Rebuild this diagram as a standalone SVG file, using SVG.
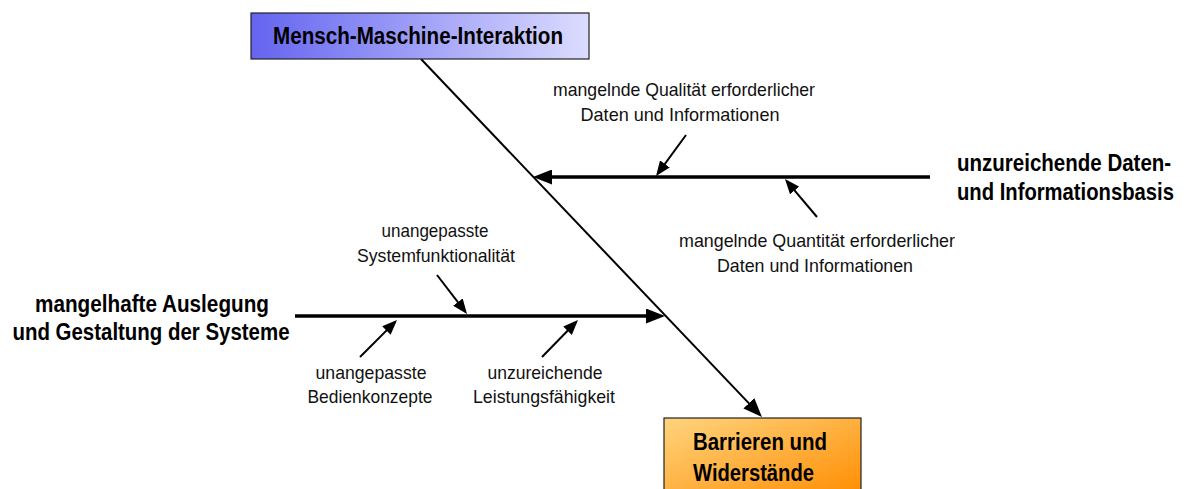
<svg xmlns="http://www.w3.org/2000/svg" width="1186" height="489" viewBox="0 0 1186 489">
  <style>
    .bold { font-family: "Liberation Sans", Arial, sans-serif; font-weight: bold; font-size: 23px; fill: #000; }
    .label { font-family: "Liberation Sans", Arial, sans-serif; font-size: 19px; fill: #111; text-anchor: middle; }
    .box { stroke: #222; stroke-width: 1.2; }
    .bone { stroke: #000; stroke-width: 3.5; fill: none; }
    .spine { stroke: #000; stroke-width: 2; fill: none; }
    .cause { stroke: #000; stroke-width: 2; fill: none; }
  </style>
  <defs>
    <linearGradient id="gradBlue" x1="0" y1="0" x2="1" y2="0">
      <stop offset="0" stop-color="#6464f0"/>
      <stop offset="1" stop-color="#dcdcff"/>
    </linearGradient>
    <linearGradient id="gradOrange" x1="0" y1="0" x2="1" y2="1">
      <stop offset="0" stop-color="#ffd47e"/>
      <stop offset="1" stop-color="#ff8c00"/>
    </linearGradient>
    <marker id="headLarge" viewBox="0 0 19 15" markerWidth="19" markerHeight="15" refX="14" refY="7.5" orient="auto" markerUnits="userSpaceOnUse">
      <path d="M0,0 L19,7.5 L0,15 z" fill="#000"/>
    </marker>
    <marker id="headSmall" viewBox="0 0 15 12" markerWidth="15" markerHeight="12" refX="12" refY="6" orient="auto" markerUnits="userSpaceOnUse">
      <path d="M0,0 L15,6 L0,12 z" fill="#000"/>
    </marker>
  </defs>

  <!-- connectors: spine, main bones and cause arrows -->
  <g id="connectors">
    <line class="spine" x1="421" y1="59" x2="758.5" y2="413.4" marker-end="url(#headLarge)"/>
    <line class="bone" x1="930" y1="177" x2="538" y2="177" marker-end="url(#headLarge)"/>
    <line class="bone" x1="295" y1="316" x2="660" y2="316" marker-end="url(#headLarge)"/>
    <line class="cause" x1="686" y1="135" x2="657.8" y2="173.6" marker-end="url(#headSmall)"/>
    <line class="cause" x1="817" y1="217" x2="786.9" y2="181.3" marker-end="url(#headSmall)"/>
    <line class="cause" x1="437" y1="275" x2="465.2" y2="311.6" marker-end="url(#headSmall)"/>
    <line class="cause" x1="360" y1="357" x2="394.9" y2="322.1" marker-end="url(#headSmall)"/>
    <line class="cause" x1="542" y1="357" x2="575.9" y2="322.2" marker-end="url(#headSmall)"/>
  </g>

  <g id="node-mmi">
    <rect class="box" x="251" y="13" width="338" height="46" fill="url(#gradBlue)"/>
    <text class="bold" x="273" y="44" textLength="290" lengthAdjust="spacingAndGlyphs">Mensch-Maschine-Interaktion</text>
  </g>

  <g id="node-barrieren">
    <rect class="box" x="664" y="418" width="197" height="80" fill="url(#gradOrange)"/>
    <text class="bold" x="693" y="450" textLength="134" lengthAdjust="spacingAndGlyphs">Barrieren und</text>
    <text class="bold" x="693" y="481" textLength="121" lengthAdjust="spacingAndGlyphs">Widerstände</text>
  </g>

  <!-- condensed horizontally so the label stays inside the right edge -->
  <g id="node-daten" transform="translate(957,0) scale(0.9,1)">
    <text class="bold" x="0" y="171" textLength="238" lengthAdjust="spacingAndGlyphs">unzureichende Daten-</text>
    <text class="bold" x="0" y="200" textLength="241" lengthAdjust="spacingAndGlyphs">und Informationsbasis</text>
  </g>

  <g id="node-auslegung">
    <text class="bold" x="152" y="312" text-anchor="middle" textLength="234" lengthAdjust="spacingAndGlyphs">mangelhafte Auslegung</text>
    <text class="bold" x="151" y="340" text-anchor="middle" textLength="277" lengthAdjust="spacingAndGlyphs">und Gestaltung der Systeme</text>
  </g>

  <g id="cause-qualitaet">
    <text class="label" x="684" y="96" textLength="262" lengthAdjust="spacingAndGlyphs">mangelnde Qualität erforderlicher</text>
    <text class="label" x="680" y="121" textLength="199" lengthAdjust="spacingAndGlyphs">Daten und Informationen</text>
  </g>

  <g id="cause-quantitaet">
    <text class="label" x="817" y="247" textLength="276" lengthAdjust="spacingAndGlyphs">mangelnde Quantität erforderlicher</text>
    <text class="label" x="815" y="272" textLength="196" lengthAdjust="spacingAndGlyphs">Daten und Informationen</text>
  </g>

  <g id="cause-systemfunktionalitaet">
    <text class="label" x="435" y="237" textLength="107" lengthAdjust="spacingAndGlyphs">unangepasste</text>
    <text class="label" x="436" y="262" textLength="158" lengthAdjust="spacingAndGlyphs">Systemfunktionalität</text>
  </g>

  <g id="cause-bedienkonzepte">
    <text class="label" x="371" y="379" textLength="111" lengthAdjust="spacingAndGlyphs">unangepasste</text>
    <text class="label" x="370" y="403" textLength="125" lengthAdjust="spacingAndGlyphs">Bedienkonzepte</text>
  </g>

  <g id="cause-leistung">
    <text class="label" x="545" y="379" textLength="115" lengthAdjust="spacingAndGlyphs">unzureichende</text>
    <text class="label" x="544" y="403" textLength="142" lengthAdjust="spacingAndGlyphs">Leistungsfähigkeit</text>
  </g>
</svg>
